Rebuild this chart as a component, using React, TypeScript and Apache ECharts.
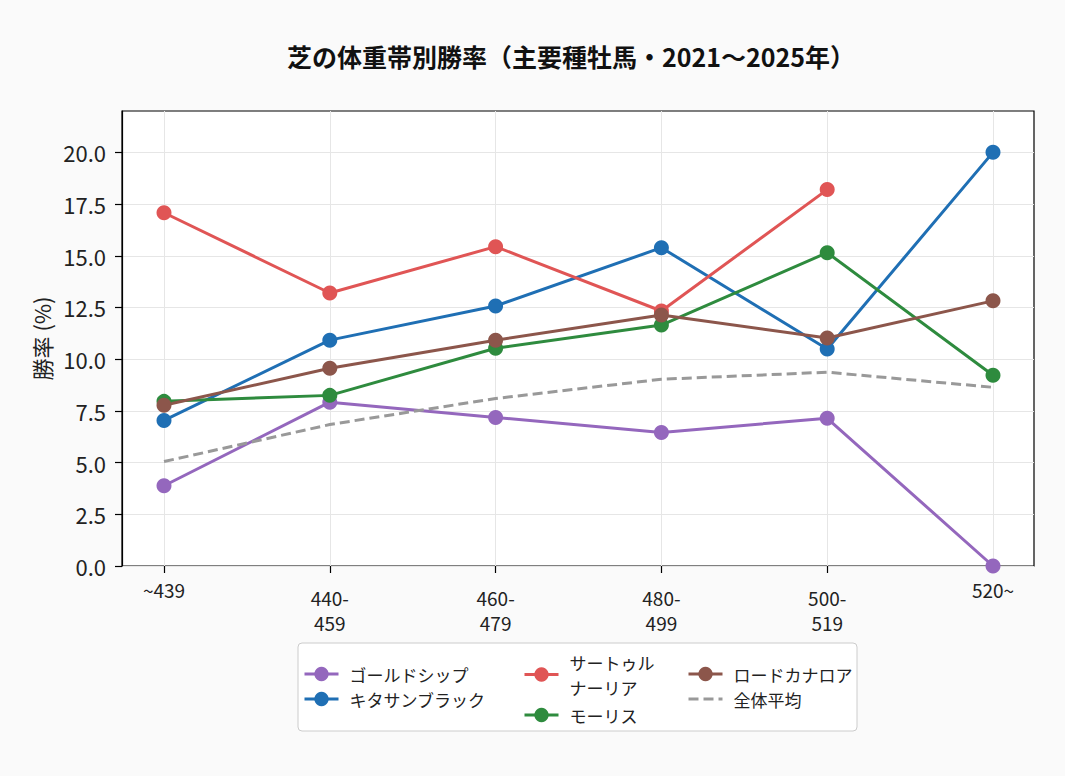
import React, { useEffect, useRef } from "react";
import * as echarts from "echarts";

const categories = ["~439", "440-\n459", "460-\n479", "480-\n499", "500-\n519", "520~"];
const goldShip = [3.88, 7.92, 7.18, 6.46, 7.14, 0.0];
const kitasanBlack = [7.04, 10.92, 12.57, 15.39, 10.49, 20.0];
const saturnalia: (number | null)[] = [17.08, 13.2, 15.44, 12.33, 18.2, null];
const maurice = [7.96, 8.25, 10.53, 11.65, 15.15, 9.22];
const lordKanaloa = [7.77, 9.56, 10.92, 12.14, 11.02, 12.82];
const overall = [5.05, 6.84, 8.1, 9.03, 9.37, 8.64];
const yTicks = [0, 2.5, 5, 7.5, 10, 12.5, 15, 17.5, 20];

const FONT = "'Noto Sans CJK JP', 'Noto Sans', sans-serif";

export default function App() {
  const ref = useRef<HTMLDivElement>(null);
  useEffect(() => {
    if (!ref.current) return;
    const chart = echarts.init(ref.current, undefined, { renderer: "svg" });
    const mk = (name: string, data: (number | null)[], color: string, dashed = false) => ({
      name,
      type: "line",
      xAxisIndex: 1,
      yAxisIndex: 1,
      data,
      clip: false,
      symbol: dashed ? "none" : "circle",
      symbolSize: 15,
      itemStyle: { color },
      lineStyle: { color, width: 3, type: dashed ? [10, 5] : "solid" },
      connectNulls: false,
    });
    const legendItem = (name: string, left: number, top: number, lh = 18, hideSymbol = false) => ({
      data: [name],
      left,
      top,
      padding: 0,
      orient: "vertical",
      itemWidth: 34,
      itemHeight: 18,
      lineStyle: { width: 3 },
      itemStyle: hideSymbol ? { opacity: 0 } : {},
      textStyle: { fontFamily: FONT, fontSize: 17, color: "#222", lineHeight: lh, padding: [0, 0, 0, 6] },
      selectedMode: false,
    });
    chart.setOption({
      animation: false,
      backgroundColor: "#fafafa",
      graphic: [
        {
          type: "text",
          x: 571,
          y: 56,
          style: {
            text: "芝の体重帯別勝率（主要種牡馬・2021～2025年）",
            align: "center",
            verticalAlign: "middle",
            fontFamily: FONT,
            fontSize: 25,
            fontWeight: "bold",
            fill: "#111",
          },
        },
        {
          type: "rect",
          shape: { x: 298, y: 643, width: 559, height: 88, r: 4 },
          style: { fill: "rgba(255,255,255,0.85)", stroke: "#cccccc", lineWidth: 1 },
          z: -1,
        },
      ],
      legend: [
        legendItem("ゴールドシップ", 303, 674 - 9),
        legendItem("キタサンブラック", 303, 699 - 9),
        legendItem("サートゥル\nナーリア", 523, 674.5 - 25, 25),
        legendItem("モーリス", 523, 715 - 9),
        legendItem("ロードカナロア", 687, 674 - 9),
        legendItem("全体平均", 687, 699 - 9, 18, true),
      ],
      grid: [
        {
          left: 122,
          top: 111,
          width: 912,
          height: 455,
          show: true,
          backgroundColor: "#ffffff",
          borderColor: "#000",
          borderWidth: 1.2,
        },
        { left: 164, top: 111, width: 829, height: 455 },
      ],
      xAxis: [
        { gridIndex: 0, type: "value", min: 0, max: 1, show: false },
        {
          gridIndex: 1,
          type: "category",
          boundaryGap: false,
          data: categories,
          axisLine: { show: false },
          axisTick: { show: true, interval: 0, length: 7, lineStyle: { color: "#000", width: 1.2 } },
          splitLine: { show: true, interval: 0, lineStyle: { color: "#e6e6e6", width: 1 } },
          axisLabel: {
            interval: 0,
            margin: 19,
            fontFamily: FONT,
            fontSize: 19,
            color: "#222",
            lineHeight: 25,
            formatter: (v: string) => (v.indexOf("\n") >= 0 ? v : `{s|${v}}`),
            rich: { s: { fontFamily: FONT, fontSize: 19, color: "#222", lineHeight: 9 } },
          },
        },
      ],
      yAxis: [
        {
          gridIndex: 0,
          type: "value",
          min: 0,
          max: 22,
          interval: 2.5,
          name: "勝率 (%)",
          nameLocation: "middle",
          nameGap: 70,
          nameTextStyle: { fontFamily: FONT, fontSize: 22, color: "#222" },
          axisLine: { show: true, lineStyle: { color: "#000", width: 1.2 } },
          axisTick: { show: true, length: 7, customValues: yTicks, lineStyle: { color: "#000", width: 1.2 } },
          axisLabel: {
            customValues: yTicks,
            fontFamily: FONT,
            fontSize: 22,
            color: "#222",
            margin: 16,
            formatter: (v: number) => (v > 20.01 ? "" : v.toFixed(1)),
          },
          splitLine: { show: true, lineStyle: { color: "#e6e6e6", width: 1 } },
        },
        { gridIndex: 1, type: "value", min: 0, max: 22, show: false, splitLine: { show: false } },
      ],
      series: [
        mk("ゴールドシップ", goldShip, "#9467bd"),
        mk("キタサンブラック", kitasanBlack, "#1f6fb4"),
        mk("サートゥル\nナーリア", saturnalia, "#e05555"),
        mk("モーリス", maurice, "#2e8b3e"),
        mk("ロードカナロア", lordKanaloa, "#8c564b"),
        mk("全体平均", overall, "#999999", true),
      ],
    });
    return () => chart.dispose();
  }, []);
  return <div ref={ref} style={{ position: "absolute", left: 0, top: 0, width: 1065, height: 776 }} />;
}
